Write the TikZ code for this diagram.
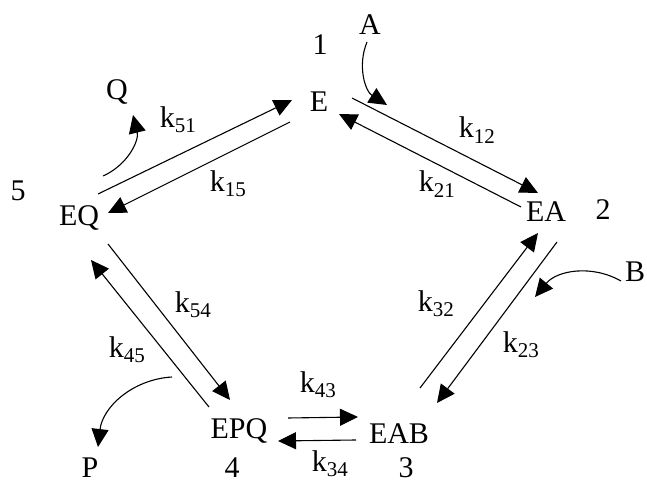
\documentclass[tikz,border=0pt]{standalone}
\usepackage{fontspec}
\setmainfont{Liberation Serif}
\usepackage{tikz}
\usetikzlibrary{arrows.meta, calc}

\begin{document}
\begin{tikzpicture}[
  x=1pt, y=1pt,
  font=\fontsize{30}{33}\selectfont,
  >={Triangle[length=18pt, width=17pt]},
  species/.style={inner sep=0pt, anchor=center},
  rate/.style={inner sep=0pt, anchor=center},
  stepno/.style={inner sep=0pt, anchor=center},
  flow/.style={->, line width=1.1pt},
  sub/.style={->, line width=1.1pt, bend right=40}
]
\useasboundingbox (0,0) rectangle (647,484);

% Enzyme species round the cycle
\node[species] (E)   at (319,382) {E};
\node[species] (EA)  at (546,272) {EA};
\node[species] (EAB) at (399,50)  {EAB};
\node[species] (EPQ) at (239,53)  {EPQ};
\node[species] (EQ)  at (79,266)  {EQ};

% Step numbers
\node[stepno] (n1) at (320,439) {1};
\node[stepno] (n2) at (603,274) {2};
\node[stepno] (n3) at (406,16)  {3};
\node[stepno] (n4) at (232,16)  {4};
\node[stepno] (n5) at (18,293)  {5};

% Substrates and products
\node[species] (A) at (370,459) {A};
\node[species] (B) at (635,212) {B};
\node[species] (P) at (90,16)   {P};
\node[species] (Q) at (117,392) {Q};

% Rate constants
\node[rate] (k51) at (178,364) {k\textsubscript{51}};
\node[rate] (k15) at (228,300) {k\textsubscript{15}};
\node[rate] (k12) at (477,354) {k\textsubscript{12}};
\node[rate] (k21) at (437,300) {k\textsubscript{21}};
\node[rate] (k32) at (436,180) {k\textsubscript{32}};
\node[rate] (k23) at (521,139) {k\textsubscript{23}};
\node[rate] (k54) at (193,179) {k\textsubscript{54}};
\node[rate] (k45) at (127,134) {k\textsubscript{45}};
\node[rate] (k43) at (318,99)  {k\textsubscript{43}};
\node[rate] (k34) at (330,20)  {k\textsubscript{34}};

% Reversible steps: forward and back arrows
\draw[flow] ($(EQ)+(19,24)$)   -- ($(E)+(-27,2)$);
\draw[flow] ($(E)+(-29,-20)$)  -- ($(EQ)+(29,5)$);
\draw[flow] ($(E)+(33,4)$)     -- ($(EA)+(-8,19)$);
\draw[flow] ($(EA)+(-25,5)$)   -- ($(E)+(20,-12)$);
\draw[flow] ($(EAB)+(21,46)$)  -- ($(EA)+(-8,-21)$);
\draw[flow] ($(EA)+(11,-30)$)  -- ($(EAB)+(38,31)$);
\draw[flow] ($(EPQ)+(49,13)$)  -- ($(EAB)+(-41,17)$);
\draw[flow] ($(EAB)+(-43,-6)$) -- ($(EPQ)+(39,-10)$);
\draw[flow] ($(EQ)+(29,-26)$)  -- ($(EPQ)+(-9,31)$);
\draw[flow] ($(EPQ)+(-30,24)$) -- ($(EQ)+(12,-42)$);

% Binding and release
\draw[sub] ($(A)+(-3,-17)$)   to ($(E)+(68,-3)$);
\draw[sub] ($(B)+(-14,-9)$)   to ($(EA)+(-11,-85)$);
\draw[sub] ($(EPQ)+(-67,54)$) to ($(P)+(8,21)$);
\draw[sub] ($(EQ)+(24,42)$)   to ($(Q)+(16,-23)$);

\end{tikzpicture}
\end{document}
